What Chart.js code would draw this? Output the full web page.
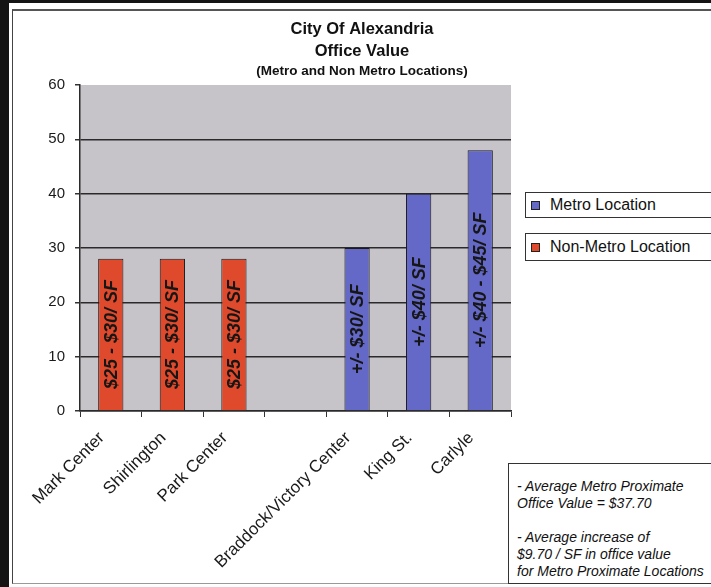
<!DOCTYPE html>
<html>
<head>
<meta charset="utf-8">
<script src="https://cdn.jsdelivr.net/npm/chart.js@4.4.1/dist/chart.umd.min.js"></script>
<style>
  html, body { margin: 0; padding: 0; background: #fff; width: 711px; height: 587px; overflow: hidden;
    font-family: "Liberation Sans", Arial, sans-serif; }
  #bandLeft { position: absolute; left: 0; top: 0; width: 9px; height: 587px; background: #141414; }
  #bandTop { position: absolute; left: 0; top: 0; width: 711px; height: 3px; background: #141414; }
  #frame { position: absolute; left: 12px; top: 9px; width: 720px; height: 575px; box-sizing: border-box;
    border-left: 1px solid #444; border-top: 2px solid #555; border-bottom: 1px solid #999; }
  #wrap { position: absolute; left: 13px; top: 11px; width: 698px; height: 572px; }
  .legend-item { position: absolute; left: 525px; width: 220px; box-sizing: border-box; border: 1px solid #333;
    background: #fff; font-size: 16px; color: #111; }
  .legend-item .sw { position: absolute; left: 5px; width: 9px; height: 9px; box-sizing: border-box; border: 1px solid #222; }
  .legend-item .tx { position: absolute; left: 24px; white-space: nowrap; line-height: 20px; }
  #note { position: absolute; left: 508px; top: 463px; width: 220px; height: 121px; box-sizing: border-box;
    border: 1px solid #333; background: #fff; font-style: italic; font-size: 14px; line-height: 17px; color: #111;
    padding: 14px 0 0 8px; white-space: nowrap; }
</style>
</head>
<body>
<div id="bandLeft"></div>
<div id="bandTop"></div>
<div id="frame"></div>
<div id="wrap"><canvas id="chart" width="698" height="572"></canvas></div>
<div id="legend"></div>
<div id="note"></div>
<script>
// Office value by location ($ per square foot)
const categories = ['Mark Center', 'Shirlington', 'Park Center', '', 'Braddock/Victory Center', 'King St.', 'Carlyle'];
const metroValues = [null, null, null, null, 30, 40, 48];
const nonMetroValues = [28, 28, 28, null, null, null, null];
const metroLabels = [null, null, null, null, '+/- $30/ SF', '+/- $40/ SF', '+/- $40 - $45/ SF'];
const nonMetroLabels = ['$25 - $30/ SF', '$25 - $30/ SF', '$25 - $30/ SF', null, null, null, null];
const yTicks = [0, 10, 20, 30, 40, 50, 60];
const seriesNames = ['Metro Location', 'Non-Metro Location'];
const seriesColors = ['#6468c6', '#e04a2c'];
const titleLines = ['City Of Alexandria', 'Office Value'];
const subtitleText = '(Metro and Non Metro Locations)';
const noteLines = ['- Average Metro Proximate', 'Office Value = $37.70', '', '- Average increase of',
  '$9.70 / SF in office value', 'for Metro Proximate Locations'];

const FONT = '"Liberation Sans", Arial, sans-serif';

// gray fill behind the plotting area
const plotBackground = {
  id: 'plotBackground',
  beforeDraw(chart) {
    const { ctx, chartArea: a } = chart;
    ctx.save();
    ctx.fillStyle = '#c6c3c9';
    ctx.fillRect(a.left, a.top, a.right - a.left, a.bottom - a.top);
    ctx.restore();
  }
};

// rotated price text inside each bar
const barText = {
  id: 'barText',
  afterDatasetsDraw(chart) {
    const ctx = chart.ctx;
    chart.data.datasets.forEach((ds, i) => {
      const meta = chart.getDatasetMeta(i);
      meta.data.forEach((bar, j) => {
        const t = ds.barLabels[j];
        if (!t) return;
        const p = bar.getProps(['x', 'y', 'base'], true);
        ctx.save();
        ctx.translate(p.x, (p.y + p.base) / 2);
        ctx.rotate(-Math.PI / 2);
        ctx.font = 'italic bold 18px ' + FONT;
        ctx.fillStyle = '#161616';
        ctx.textAlign = 'center';
        ctx.textBaseline = 'middle';
        ctx.fillText(t, 0, 1);
        ctx.restore();
      });
    });
  }
};

const chart = new Chart(document.getElementById('chart'), {
  type: 'bar',
  data: {
    labels: categories,
    datasets: [
      { label: seriesNames[0], data: metroValues, barLabels: metroLabels,
        backgroundColor: seriesColors[0], borderColor: '#1c1c1c', borderWidth: 1 },
      { label: seriesNames[1], data: nonMetroValues, barLabels: nonMetroLabels,
        backgroundColor: seriesColors[1], borderColor: '#1c1c1c', borderWidth: 1 }
    ]
  },
  options: {
    responsive: false,
    animation: false,
    devicePixelRatio: 1,
    layout: { padding: 0 },
    datasets: { bar: { categoryPercentage: 1, barPercentage: 0.41 } },
    plugins: {
      legend: { display: false },
      tooltip: { enabled: false },
      title: {
        display: true, text: titleLines, color: '#111',
        font: { family: FONT, size: 16.5, weight: 'bold', lineHeight: 22 / 16.5 },
        padding: { top: 7, bottom: 2 }
      },
      subtitle: {
        display: true, text: subtitleText, color: '#111',
        font: { family: FONT, size: 13.5, weight: 'bold', lineHeight: 14 / 13.5 },
        padding: { top: 0, bottom: 7 }
      }
    },
    scales: {
      x: {
        stacked: true,
        grid: { display: true, drawOnChartArea: false, drawTicks: true, tickLength: 6, tickColor: '#333', offset: true },
        border: { display: true, color: '#2a2a2a', width: 1.5 },
        ticks: { autoSkip: false, maxRotation: 45, minRotation: 45, color: '#1a1a1a', padding: 11, labelOffset: -9,
          font: { family: FONT, size: 17 } },
        afterFit(scale) { scale.height = 172; }
      },
      y: {
        stacked: true,
        min: 0, max: 60,
        afterBuildTicks(scale) { scale.ticks = yTicks.map(v => ({ value: v })); },
        grid: {
          color: c => (c.tick && c.tick.value === 60) ? 'rgba(0,0,0,0)' : '#2a2a2a',
          lineWidth: 1.5, tickLength: 5, tickColor: '#333'
        },
        border: { display: true, color: '#2a2a2a', width: 1.5 },
        ticks: { color: '#1a1a1a', padding: 10, font: { family: FONT, size: 15 } },
        afterFit(scale) { scale.width = 67; }
      },
      // empty right-hand band that leaves room for the legend and note
      side: {
        position: 'right',
        display: true,
        grid: { display: false },
        border: { display: false },
        ticks: { display: false },
        afterFit(scale) { scale.width = 200; }
      }
    }
  },
  plugins: [plotBackground, barText]
});

// legend boxes built from the chart's datasets
const legendTops = [192, 233];
const legendHeights = [26, 28];
const legendEl = document.getElementById('legend');
chart.data.datasets.forEach((ds, i) => {
  const item = document.createElement('div');
  item.className = 'legend-item';
  item.style.top = legendTops[i] + 'px';
  item.style.height = legendHeights[i] + 'px';
  const sw = document.createElement('div');
  sw.className = 'sw';
  sw.style.background = ds.backgroundColor;
  sw.style.top = (legendHeights[i] / 2 - 5) + 'px';
  const tx = document.createElement('div');
  tx.className = 'tx';
  tx.textContent = ds.label;
  tx.style.top = (legendHeights[i] / 2 - 11) + 'px';
  item.appendChild(sw);
  item.appendChild(tx);
  legendEl.appendChild(item);
});

// summary note
const noteEl = document.getElementById('note');
noteLines.forEach(line => {
  const d = document.createElement('div');
  d.textContent = line || '\u00a0';
  noteEl.appendChild(d);
});
</script>
</body>
</html>
